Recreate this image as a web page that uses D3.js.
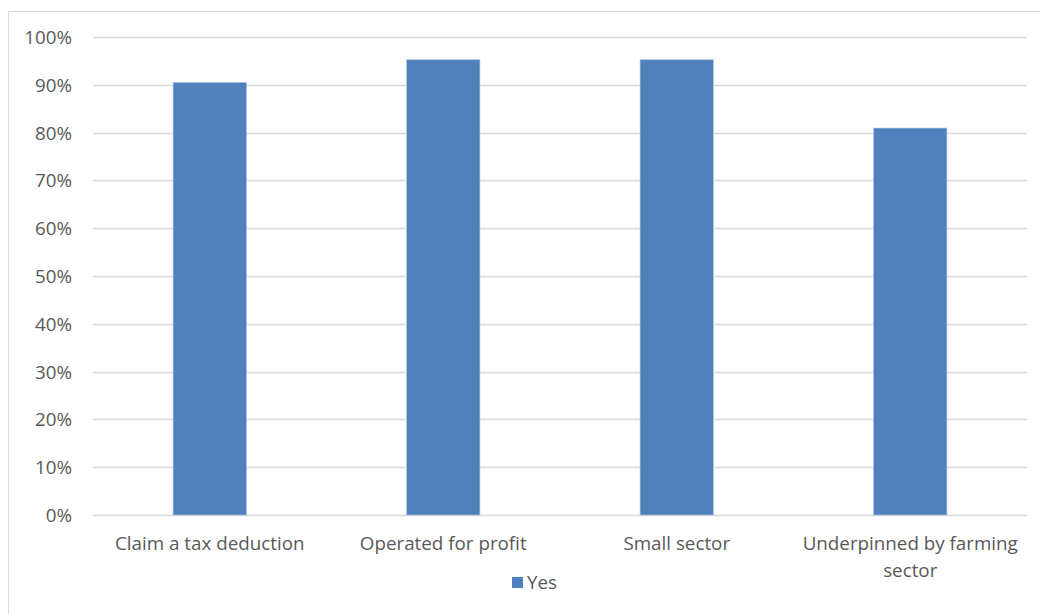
<!DOCTYPE html>
<html><head><meta charset="utf-8">
<script src="https://cdn.jsdelivr.net/npm/d3@7"></script>
<style>body{margin:0;background:#fff;}svg{display:block;}text{font-family:"Open Sans","Liberation Sans",sans-serif;fill:#595959;}</style>
</head><body>
<svg id="c" width="1040" height="614"></svg>
<script>
const categories = [["Claim a tax deduction"], ["Operated for profit"], ["Small sector"], ["Underpinned by farming", "sector"]];
const values = [0.9048, 0.9524, 0.9524, 0.8095];
const seriesName = "Yes";
const yTicks = [0,0.1,0.2,0.3,0.4,0.5,0.6,0.7,0.8,0.9,1.0];

const svg = d3.select("#c");
const W = 1040, H = 614;
const m = {left:93, right:13, top:37, bottom:99};
const FS = "18.8px";
svg.append("path").attr("d", `M8.5,${H} V11.5 H${W}`).attr("fill","none").attr("stroke","#d9d9d9").attr("stroke-width",1);

const x = d3.scaleBand().domain(d3.range(categories.length)).range([m.left, W-m.right]).paddingInner(0.686).paddingOuter(0.343);
const y = d3.scaleLinear().domain([0,1]).range([H-m.bottom, m.top]);

const g = svg.append("g");
g.selectAll("line.grid").data(yTicks).enter().append("line")
  .attr("x1", m.left).attr("x2", W-m.right)
  .attr("y1", d=>Math.round(y(d))+0.5).attr("y2", d=>Math.round(y(d))+0.5)
  .attr("stroke","#d9d9d9").attr("stroke-width",1.3);

const yAxis = d3.axisLeft(y).tickValues(yTicks).tickFormat(d3.format(".0%")).tickSize(0).tickPadding(21);
const ya = svg.append("g").attr("transform",`translate(${m.left},0)`).call(yAxis);
ya.select(".domain").remove();
ya.selectAll("text").style("font-size",FS).style("font-family",null).attr("fill","#595959").attr("dy","0.35em");
ya.attr("font-family",null);

g.selectAll("rect.bar").data(values).enter().append("rect")
  .attr("x",(d,i)=>x(i)).attr("width",x.bandwidth())
  .attr("y",d=>y(d)).attr("height",d=>y(0)-y(d))
  .attr("fill","#4f81bd").attr("stroke","#a9c1e0").attr("stroke-width",0.6);

const xa = svg.append("g");
categories.forEach((lines,i)=>{
  const t = xa.append("text").attr("text-anchor","middle").style("font-size",FS)
    .attr("x", x(i)+x.bandwidth()/2).attr("y", y(0)+35);
  lines.forEach((l,k)=>t.append("tspan").attr("x", x(i)+x.bandwidth()/2).attr("dy", k===0?0:27).text(l));
});

const lg = svg.append("g");
lg.append("rect").attr("x",512).attr("y",577).attr("width",11).attr("height",11).attr("fill","#4f81bd");
lg.append("text").attr("x",527).attr("y",589).style("font-size",FS).text(seriesName);
</script>
</body></html>
